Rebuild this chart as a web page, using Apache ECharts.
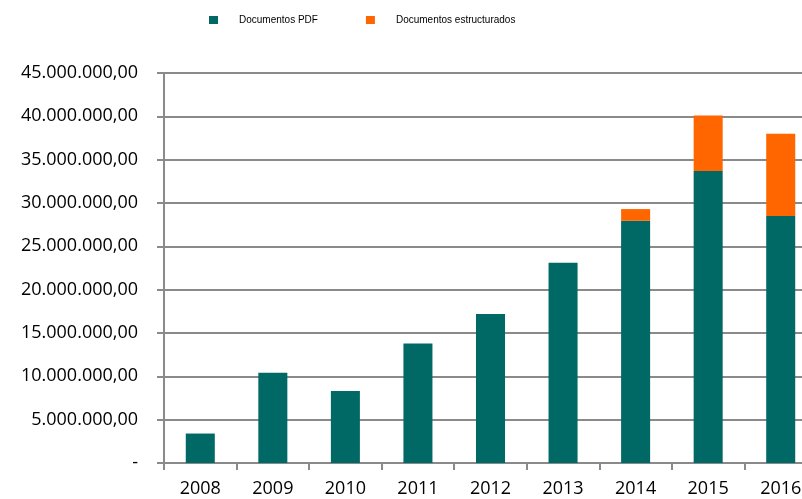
<!DOCTYPE html>
<html><head><meta charset="utf-8">
<script src="https://cdn.jsdelivr.net/npm/echarts@6/dist/echarts.min.js"></script>
<style>html,body{margin:0;padding:0;background:#fff;overflow:hidden}#c{width:802px;height:499px}</style>
</head><body><div id="c"></div>
<script>
var years = ['2008','2009','2010','2011','2012','2013','2014','2015','2016'];
var pdfDocs = [3400000, 10400000, 8300000, 13800000, 17200000, 23100000, 27950000, 33700000, 28500000];
var structuredDocs = [0, 0, 0, 0, 0, 0, 1350000, 6400000, 9500000];
var seriesNames = ['Documentos PDF', 'Documentos estructurados'];

function fmt(v){
  if (v === 0) return '-';
  var s = String(Math.round(v)).replace(/\B(?=(\d{3})+(?!\d))/g, '.');
  return s + ',00';
}

var chart = echarts.init(document.getElementById('c'), null, {renderer:'canvas'});
chart.setOption({
  animation:false,
  legend:{
    top:10, left:204, icon:'rect', itemWidth:9, itemHeight:8, itemGap:48,
    textStyle:{fontFamily:'Liberation Sans', fontSize:10, color:'#000', padding:[0,0,0,16]},
    data:seriesNames
  },
  grid:{left:164, top:73, height:390, width:653, containLabel:false, outerBoundsMode:'none'},
  xAxis:{
    type:'category', data:years,
    axisLine:{lineStyle:{color:'#8a8a8a', width:2}},
    axisTick:{show:true, length:7, lineStyle:{color:'#8a8a8a', width:2}},
    axisLabel:{fontFamily:'Open Sans', fontSize:18, color:'#000', margin:17}
  },
  yAxis:{
    type:'value', min:0, max:45000000, interval:5000000,
    axisLine:{show:true, lineStyle:{color:'#8a8a8a', width:2}},
    axisTick:{show:true, length:7, lineStyle:{color:'#8a8a8a', width:2}},
    splitLine:{lineStyle:{color:'#8a8a8a', width:2}},
    axisLabel:{fontFamily:'Open Sans', fontSize:18, color:'#000', margin:26, formatter:fmt}
  },
  series:[
    {name:seriesNames[0], type:'bar', stack:'a', data:pdfDocs, barWidth:'40%',
     itemStyle:{color:'#006966'}},
    {name:seriesNames[1], type:'bar', stack:'a', data:structuredDocs, barWidth:'40%',
     itemStyle:{color:'#ff6600'}}
  ]
});
</script></body></html>
